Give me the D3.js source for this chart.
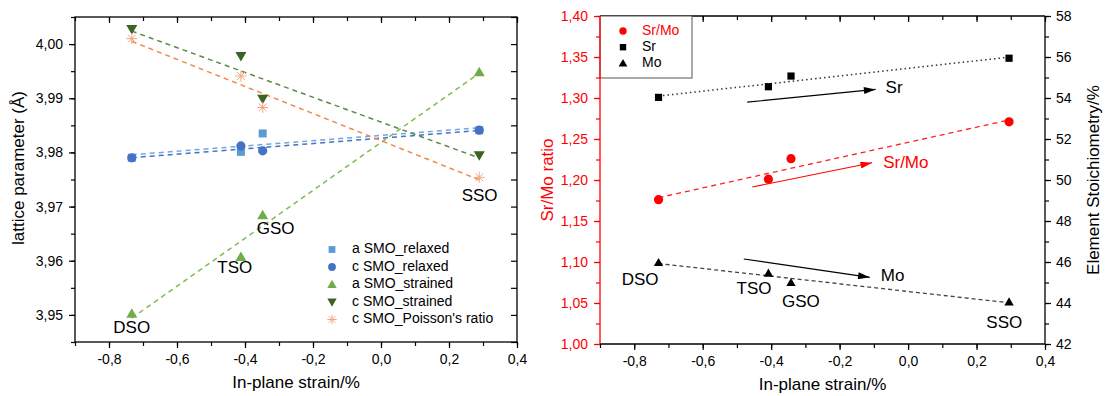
<!DOCTYPE html>
<html><head><meta charset="utf-8">
<script src="https://cdn.jsdelivr.net/npm/d3@7"></script>
<style>
body{margin:0;background:#fff;}
text{font-family:"Liberation Sans",Arial,sans-serif;}
</style></head>
<body><svg id="c" width="1105" height="396"></svg>
<script>
// ---- data: left panel ----
const substrates = ["DSO","TSO","GSO","SSO"];
const strainL = [-0.733, -0.412, -0.348, 0.289];
const aRelaxed  = [3.9790, 3.9801, 3.9835, 3.9841];
const cRelaxed  = [3.9790, 3.9812, 3.9803, 3.9841];
const aStrained = [3.9502, 3.9607, 3.9684, 3.9948];
const cStrained = [4.0028, 3.9978, 3.9899, 3.9795];
const cPoisson  = [4.0010, 3.9941, 3.9883, 3.9754];
const leftYTicks = [3.95, 3.96, 3.97, 3.98, 3.99, 4.00];
const xTicks = [-0.8, -0.6, -0.4, -0.2, 0.0, 0.2, 0.4];
const legendL = ["a SMO_relaxed","c SMO_relaxed","a SMO_strained","c SMO_strained","c SMO_Poisson's ratio"];
// label anchor (strain, lattice) for substrate names in left panel
const labelLx = [-0.733, -0.43, -0.31, 0.29];
const labelLy = [3.9475, 3.9585, 3.9657, 3.9719];

// ---- data: right panel ----
const strainR = [-0.729, -0.408, -0.342, 0.295];
const srMo = [1.176, 1.201, 1.226, 1.271];
const sr   = [54.03, 54.55, 55.07, 55.94];
const mo   = [45.97, 45.45, 44.99, 44.05];
const ratioTicks = [1.00,1.05,1.10,1.15,1.20,1.25,1.30,1.35,1.40];
const stoichTicks = [42,44,46,48,50,52,54,56,58];
const legendR = ["Sr/Mo","Sr","Mo"];
// substrate labels (strain, ratio) in right panel
const labelRx = [-0.783, -0.45, -0.313, 0.281];
const labelRy = [1.0772, 1.0659, 1.0509, 1.0244];
// arrows: [x0,y0,x1,y1] with y in stoichiometry (Sr, Mo) or ratio (Sr/Mo)
const arrowSr   = [-0.47, 53.8, -0.095, 54.42];
const arrowSrMo = [-0.455, 1.1915, -0.105, 1.221];
const arrowMo   = [-0.48, 46.15, -0.112, 45.25];

const fmt = (d, n) => (d < 0 ? "-" : "") + Math.abs(d).toFixed(n).replace(".", ",");

const svg = d3.select("#c");
const defs = svg.append("defs");
[["ahK","#000"],["ahR","#ff0000"]].forEach(([id,c])=>{
  defs.append("marker").attr("id",id).attr("viewBox","0 0 10 6").attr("refX",10).attr("refY",3)
    .attr("markerWidth",14).attr("markerHeight",7).attr("markerUnits","userSpaceOnUse").attr("orient","auto")
    .append("path").attr("d","M0,0L10,3L0,6Z").attr("fill",c);
});

function fit(xs, ys){
  const n=xs.length, mx=d3.mean(xs), my=d3.mean(ys);
  let sxy=0,sxx=0; for(let i=0;i<n;i++){sxy+=(xs[i]-mx)*(ys[i]-my);sxx+=(xs[i]-mx)**2;}
  const b=sxy/sxx, a=my-b*mx; const x0=d3.min(xs), x1=d3.max(xs);
  return [[x0,a+b*x0],[x1,a+b*x1]];
}

// ================= LEFT PANEL =================
const L = {x0:75, x1:517, y0:17, y1:342};
const xL = d3.scaleLinear().domain([-0.9,0.4]).range([L.x0,L.x1]);
const yL = d3.scaleLinear().domain([3.945,4.005]).range([L.y1,L.y0]);
const gL = svg.append("g");
const minorX = d3.range(-0.9,0.41,0.1).map(v=>+v.toFixed(2));
const minorYL = d3.range(3.945,4.0051,0.005).map(v=>+v.toFixed(3));

function styleAxis(g, color){
  g.selectAll("path").remove();
  g.selectAll("line").attr("stroke",color).attr("stroke-width",1.2);
  g.selectAll("text").attr("fill",color).attr("font-size",14);
}
// bottom
gL.append("g").attr("transform",`translate(0,${L.y1})`)
  .call(d3.axisBottom(xL).tickValues(minorX).tickSize(4).tickFormat("")).call(g=>styleAxis(g,"#000"));
gL.append("g").attr("transform",`translate(0,${L.y1})`)
  .call(d3.axisBottom(xL).tickValues(xTicks).tickSize(6).tickPadding(6).tickFormat(d=>fmt(d,1))).call(g=>styleAxis(g,"#000"));
// top inward
gL.append("g").attr("transform",`translate(0,${L.y0})`)
  .call(d3.axisBottom(xL).tickValues(minorX).tickSize(4).tickFormat("")).call(g=>styleAxis(g,"#000"));
gL.append("g").attr("transform",`translate(0,${L.y0})`)
  .call(d3.axisBottom(xL).tickValues(xTicks).tickSize(6).tickFormat("")).call(g=>styleAxis(g,"#000"));
// left
gL.append("g").attr("transform",`translate(${L.x0},0)`)
  .call(d3.axisLeft(yL).tickValues(minorYL).tickSize(4).tickFormat("")).call(g=>styleAxis(g,"#000"));
gL.append("g").attr("transform",`translate(${L.x0},0)`)
  .call(d3.axisLeft(yL).tickValues(leftYTicks).tickSize(6).tickPadding(6).tickFormat(d=>fmt(d,2))).call(g=>styleAxis(g,"#000"));
// right inward
gL.append("g").attr("transform",`translate(${L.x1},0)`)
  .call(d3.axisLeft(yL).tickValues(minorYL).tickSize(6).tickFormat("")).call(g=>styleAxis(g,"#000"));
gL.append("rect").attr("x",L.x0).attr("y",L.y0).attr("width",L.x1-L.x0).attr("height",L.y1-L.y0)
  .attr("fill","none").attr("stroke","#000").attr("stroke-width",1.3);

gL.append("text").attr("x",xL(-0.25)).attr("y",388).attr("text-anchor","middle").attr("font-size",17).text("In-plane strain/%");
gL.append("text").attr("transform","translate(24,168) rotate(-90)").attr("text-anchor","middle").attr("font-size",17).text("lattice parameter (Å)");

const seriesL = [
  {v:aRelaxed,  mc:"#5b9bd5", lc:"#6fa8dc", sym:"square"},
  {v:cRelaxed,  mc:"#4472c4", lc:"#4472c4", sym:"circle"},
  {v:aStrained, mc:"#70ad47", lc:"#7cbb55", sym:"tri"},
  {v:cStrained, mc:"#3b6321", lc:"#5b8a45", sym:"trid"},
  {v:cPoisson,  mc:"#f4a582", lc:"#f08a4b", sym:"star"}
];
const line = d3.line();
function marker(g, type, x, y, color, s){
  s = s || 1;
  if(type==="square") g.append("rect").attr("x",x-4*s).attr("y",y-4*s).attr("width",8*s).attr("height",8*s).attr("fill",color);
  else if(type==="circle") g.append("circle").attr("cx",x).attr("cy",y).attr("r",4.6*s).attr("fill",color);
  else if(type==="tri") g.append("path").attr("d",`M${x},${y-5.5*s}L${x+5.5*s},${y+4*s}L${x-5.5*s},${y+4*s}Z`).attr("fill",color);
  else if(type==="trid") g.append("path").attr("d",`M${x},${y+5.5*s}L${x+5.5*s},${y-4*s}L${x-5.5*s},${y-4*s}Z`).attr("fill",color);
  else if(type==="star"){
    const r=5.5*s; const gg=g.append("g").attr("stroke",color).attr("stroke-width",1);
    for(let k=0;k<4;k++){const a=k*Math.PI/4; gg.append("line").attr("x1",x-r*Math.cos(a)).attr("y1",y-r*Math.sin(a)).attr("x2",x+r*Math.cos(a)).attr("y2",y+r*Math.sin(a));}
  }
}
seriesL.forEach(s=>{
  const f = fit(strainL, s.v);
  gL.append("path").attr("d",line(f.map(p=>[xL(p[0]),yL(p[1])]))).attr("fill","none")
    .attr("stroke",s.lc).attr("stroke-width",1.5).attr("stroke-dasharray","5,4");
});
seriesL.forEach(s=>{
  s.v.forEach((v,i)=>marker(gL,s.sym,xL(strainL[i]),yL(v),s.mc));
});
substrates.forEach((n,i)=>{
  gL.append("text").attr("x",xL(labelLx[i])).attr("y",yL(labelLy[i])).attr("text-anchor","middle")
    .attr("dominant-baseline","middle").attr("font-size",17).text(n);
});
legendL.forEach((t,i)=>{
  const y = 249.5 + i*17.5;
  marker(gL, seriesL[i].sym, 332, y, seriesL[i].mc, 0.85);
  gL.append("text").attr("x",352).attr("y",y).attr("dominant-baseline","middle").attr("font-size",14).text(t);
});

// ================= RIGHT PANEL =================
const R = {x0:600, x1:1045, y0:16, y1:344};
const xR = d3.scaleLinear().domain([-0.9,0.4]).range([R.x0,R.x1]);
const yR = d3.scaleLinear().domain([1.0,1.4]).range([R.y1,R.y0]);
const yS = d3.scaleLinear().domain([42,58]).range([R.y1,R.y0]);
const gR = svg.append("g");
const minorRatio = d3.range(1.0,1.401,0.025).map(v=>+v.toFixed(3));
const minorS = d3.range(42,58.1,1);

gR.append("g").attr("transform",`translate(0,${R.y1})`)
  .call(d3.axisBottom(xR).tickValues(minorX).tickSize(4).tickFormat("")).call(g=>styleAxis(g,"#000"));
gR.append("g").attr("transform",`translate(0,${R.y1})`)
  .call(d3.axisBottom(xR).tickValues(xTicks).tickSize(6).tickPadding(6).tickFormat(d=>fmt(d,1))).call(g=>styleAxis(g,"#000"));
gR.append("g").attr("transform",`translate(0,${R.y0})`)
  .call(d3.axisBottom(xR).tickValues(minorX).tickSize(4).tickFormat("")).call(g=>styleAxis(g,"#000"));
gR.append("g").attr("transform",`translate(0,${R.y0})`)
  .call(d3.axisBottom(xR).tickValues(xTicks).tickSize(6).tickFormat("")).call(g=>styleAxis(g,"#000"));
gR.append("g").attr("transform",`translate(${R.x1},0)`)
  .call(d3.axisRight(yS).tickValues(minorS).tickSize(4).tickFormat("")).call(g=>styleAxis(g,"#000"));
gR.append("g").attr("transform",`translate(${R.x1},0)`)
  .call(d3.axisRight(yS).tickValues(stoichTicks).tickSize(6).tickPadding(5).tickFormat(d=>d)).call(g=>styleAxis(g,"#000"));
gR.append("line").attr("x1",R.x0).attr("x2",R.x1).attr("y1",R.y0).attr("y2",R.y0).attr("stroke","#000").attr("stroke-width",1.3);
gR.append("line").attr("x1",R.x0).attr("x2",R.x1).attr("y1",R.y1).attr("y2",R.y1).attr("stroke","#000").attr("stroke-width",1.3);
gR.append("line").attr("x1",R.x1).attr("x2",R.x1).attr("y1",R.y0).attr("y2",R.y1).attr("stroke","#000").attr("stroke-width",1.3);
gR.append("g").attr("transform",`translate(${R.x0},0)`)
  .call(d3.axisLeft(yR).tickValues(minorRatio).tickSize(4).tickFormat("")).call(g=>styleAxis(g,"#ff0000"));
gR.append("g").attr("transform",`translate(${R.x0},0)`)
  .call(d3.axisLeft(yR).tickValues(ratioTicks).tickSize(6).tickPadding(6).tickFormat(d=>fmt(d,2))).call(g=>styleAxis(g,"#ff0000"));

gR.append("text").attr("x",xR(-0.25)).attr("y",390).attr("text-anchor","middle").attr("font-size",17).text("In-plane strain/%");
gR.append("text").attr("transform","translate(553,180) rotate(-90)").attr("text-anchor","middle").attr("font-size",17).attr("fill","#ff0000").text("Sr/Mo ratio");
gR.append("text").attr("transform","translate(1099,180) rotate(-90)").attr("text-anchor","middle").attr("font-size",17).text("Element Stoichiometry/%");

const fSr = fit(strainR, sr), fMo = fit(strainR, mo), fRat = fit(strainR, srMo);
gR.append("path").attr("d",line(fSr.map(p=>[xR(p[0]),yS(p[1])]))).attr("fill","none").attr("stroke","#333").attr("stroke-width",1.5).attr("stroke-dasharray","1.5,3");
gR.append("path").attr("d",line(fMo.map(p=>[xR(p[0]),yS(p[1])]))).attr("fill","none").attr("stroke","#444").attr("stroke-width",1.3).attr("stroke-dasharray","4,3");
gR.append("path").attr("d",line(fRat.map(p=>[xR(p[0]),yR(p[1])]))).attr("fill","none").attr("stroke","#ff2020").attr("stroke-width",1.3).attr("stroke-dasharray","5,4");

sr.forEach((v,i)=>marker(gR,"square",xR(strainR[i]),yS(v),"#000",0.9));
mo.forEach((v,i)=>marker(gR,"tri",xR(strainR[i]),yS(v),"#000",0.85));
srMo.forEach((v,i)=>marker(gR,"circle",xR(strainR[i]),yR(v),"#ff0000",1.0));

// arrows
gR.append("line").attr("x1",xR(arrowSr[0])).attr("y1",yS(arrowSr[1])).attr("x2",xR(arrowSr[2])).attr("y2",yS(arrowSr[3])).attr("stroke","#000").attr("stroke-width",1.1).attr("marker-end","url(#ahK)");
gR.append("line").attr("x1",xR(arrowMo[0])).attr("y1",yS(arrowMo[1])).attr("x2",xR(arrowMo[2])).attr("y2",yS(arrowMo[3])).attr("stroke","#000").attr("stroke-width",1.1).attr("marker-end","url(#ahK)");
gR.append("line").attr("x1",xR(arrowSrMo[0])).attr("y1",yR(arrowSrMo[1])).attr("x2",xR(arrowSrMo[2])).attr("y2",yR(arrowSrMo[3])).attr("stroke","#ff0000").attr("stroke-width",1.1).attr("marker-end","url(#ahR)");
gR.append("text").attr("x",xR(arrowSr[2])+10).attr("y",yS(arrowSr[3])-1).attr("dominant-baseline","middle").attr("font-size",17).text("Sr");
gR.append("text").attr("x",xR(arrowSrMo[2])+11).attr("y",yR(arrowSrMo[3])+1).attr("dominant-baseline","middle").attr("font-size",17).attr("fill","#ff0000").text("Sr/Mo");
gR.append("text").attr("x",xR(arrowMo[2])+11).attr("y",yS(arrowMo[3])-1).attr("dominant-baseline","middle").attr("font-size",17).text("Mo");

substrates.forEach((n,i)=>{
  gR.append("text").attr("x",xR(labelRx[i])).attr("y",yR(labelRy[i])).attr("text-anchor","middle")
    .attr("dominant-baseline","middle").attr("font-size",17).text(n);
});

// legend
gR.append("rect").attr("x",R.x0).attr("y",R.y0).attr("width",92).attr("height",62).attr("fill","#fff").attr("stroke","#555").attr("stroke-width",1);
const legSyms = [["circle","#ff0000"],["square","#000"],["tri","#000"]];
legendR.forEach((t,i)=>{
  const y = 31 + i*16.2;
  marker(gR, legSyms[i][0], 623, y, legSyms[i][1], 0.8);
  gR.append("text").attr("x",642).attr("y",y).attr("dominant-baseline","middle").attr("font-size",14)
    .attr("fill", i===0?"#ff0000":"#000").text(t);
});
gR.append("line").attr("x1",R.x0).attr("x2",R.x0).attr("y1",R.y0).attr("y2",R.y1).attr("stroke","#ff0000").attr("stroke-width",1.3);
</script></body></html>
